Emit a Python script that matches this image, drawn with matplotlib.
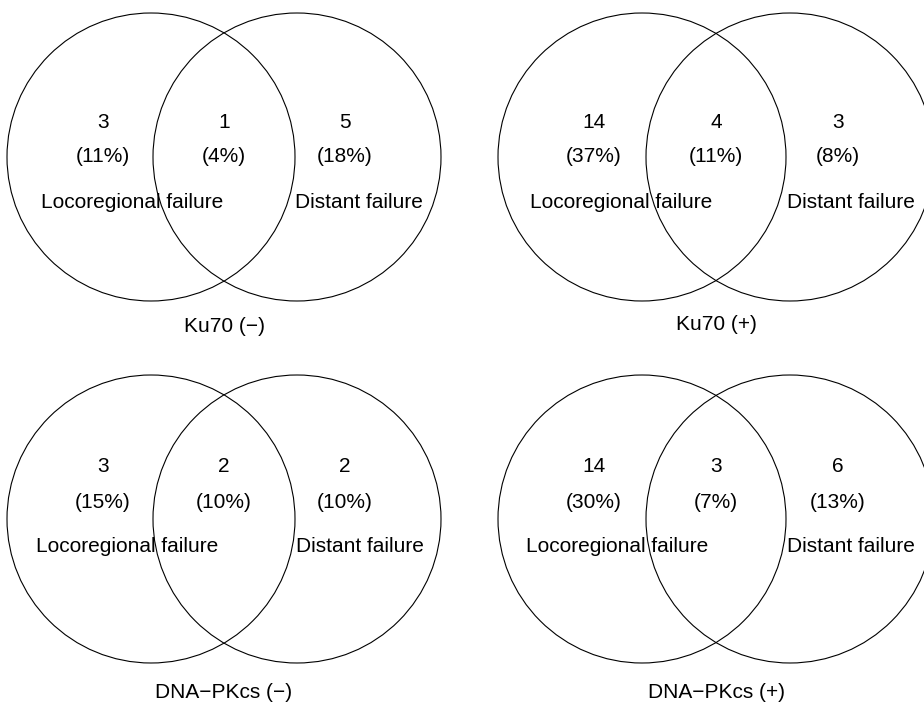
import matplotlib.pyplot as plt
from matplotlib.patches import Circle

plt.rcParams['font.family'] = ['Liberation Sans', 'DejaVu Sans']

# panel data
titles = ['Ku70 (\u2212)', 'Ku70 (+)', 'DNA\u2212PKcs (\u2212)', 'DNA\u2212PKcs (+)']
left_only = [3, 14, 3, 14]
both = [1, 4, 2, 3]
right_only = [5, 3, 2, 6]
left_pct = [11, 37, 15, 30]
both_pct = [4, 11, 10, 7]
right_pct = [18, 8, 10, 13]
set_labels = ['Locoregional failure', 'Distant failure']

# layout (pixel coordinates of the picture)
left_cx = [151, 642, 151, 642]
right_cx = [297, 790, 297, 790]
cy = [157, 157, 519, 519]
radius = 144
count_y = [122, 122, 466, 466]
pct_y = [157, 157, 502, 502]
label_y = [202, 202, 547, 547]
title_y = [327, 325, 693, 693]
left_lab_dx = [-19, -21, -24, -25]
right_lab_dx = [62, 61, 63, 61]

fig = plt.figure(figsize=(9.24, 7.06), dpi=100)
ax = fig.add_axes([0, 0, 1, 1])
ax.set_xlim(0, 924)
ax.set_ylim(706, 0)
ax.axis('off')

fs = 15
for i in range(4):
    for cx in (left_cx[i], right_cx[i]):
        ax.add_patch(Circle((cx, cy[i]), radius, fill=False, ec='black', lw=0.8))
    mid = (left_cx[i] + right_cx[i]) / 2
    xs = [left_cx[i] - 48, mid, right_cx[i] + 48]
    counts = [left_only[i], both[i], right_only[i]]
    pcts = [left_pct[i], both_pct[i], right_pct[i]]
    for x, c, p in zip(xs, counts, pcts):
        ax.text(x, count_y[i], str(c), ha='center', va='center', fontsize=fs)
        ax.text(x, pct_y[i], '(%d%%)' % p, ha='center', va='center', fontsize=fs)
    ax.text(left_cx[i] + left_lab_dx[i], label_y[i], set_labels[0],
            ha='center', va='center', fontsize=fs)
    ax.text(right_cx[i] + right_lab_dx[i], label_y[i], set_labels[1],
            ha='center', va='center', fontsize=fs)
    ax.text(mid, title_y[i], titles[i], ha='center', va='center', fontsize=fs)

fig.savefig('out.png', dpi=100)
